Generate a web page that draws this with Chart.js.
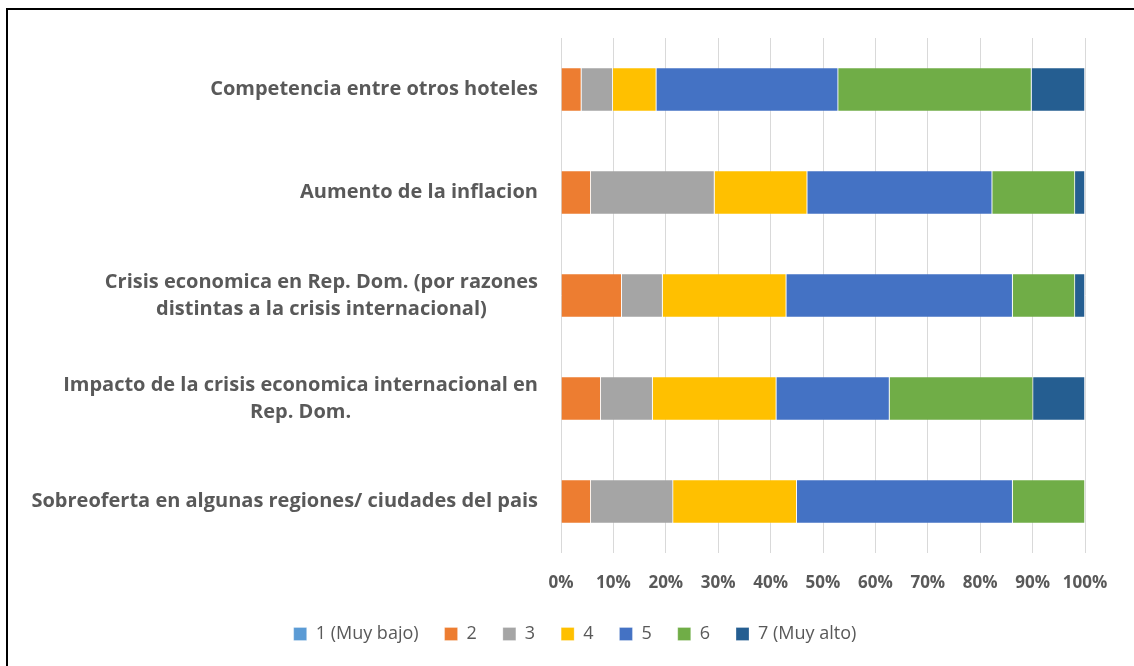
<!DOCTYPE html>
<html>
<head>
<meta charset="utf-8">
<script src="https://cdn.jsdelivr.net/npm/chart.js@4/dist/chart.umd.min.js"></script>
<style>
  html, body { margin: 0; padding: 0; background: #fff; overflow: hidden; }
  #wrap { position: absolute; left: 0; top: 0; width: 1134px; height: 666px; }
  #frame { position: absolute; left: 6px; top: 8px; width: 1200px; height: 800px;
           border-left: 2px solid #000; border-top: 2px solid #000; }
  canvas { position: absolute; left: 0; top: 0; }
</style>
</head>
<body>
<div id="wrap">
  <div id="frame"></div>
  <canvas id="chart" width="1134" height="666"></canvas>
</div>
<script>
// ---- data (percent of answers per level) ----
const categories = [
  ['Competencia entre otros hoteles'],
  ['Aumento de la inflacion'],
  ['Crisis economica en Rep. Dom. (por razones', 'distintas a la crisis internacional)'],
  ['Impacto de la crisis economica internacional en', 'Rep. Dom.'],
  ['Sobreoferta en algunas regiones/ ciudades del pais']
];
const seriesNames = ['1 (Muy bajo)', '2', '3', '4', '5', '6', '7 (Muy alto)'];
const level1 = [0, 0, 0, 0, 0];
const level2 = [3.9, 5.7, 11.6, 7.6, 5.7];
const level3 = [6.0, 23.6, 7.8, 9.9, 15.7];
const level4 = [8.3, 17.7, 23.6, 23.6, 23.6];
const level5 = [34.7, 35.3, 43.2, 21.6, 41.2];
const level6 = [36.9, 15.8, 11.9, 27.4, 13.8];
const level7 = [10.2, 1.9, 1.9, 9.9, 0];
const xTicks = [0, 10, 20, 30, 40, 50, 60, 70, 80, 90, 100];

const colors = ['#5B9BD5', '#ED7D31', '#A5A5A5', '#FFC000', '#4472C4', '#70AD47', '#255E91'];
const textColor = '#595959';
const fontFamily = '"Open Sans", Lato, sans-serif';

const allLevels = [level1, level2, level3, level4, level5, level6, level7];

// y labels drawn by hand so wrapped lines are centered like the original
const categoryLabels = {
  id: 'categoryLabels',
  afterDraw(chart) {
    const ctx = chart.ctx;
    const y = chart.scales.y;
    const rightEdge = chart.chartArea.left - 23;
    const lineH = 27;
    ctx.save();
    ctx.font = 'bold 20px ' + fontFamily;
    ctx.fillStyle = textColor;
    ctx.textAlign = 'center';
    ctx.textBaseline = 'middle';
    categories.forEach((lines, i) => {
      const cy = y.getPixelForValue(i);
      const maxW = Math.max(...lines.map(l => ctx.measureText(l).width));
      const cx = rightEdge - maxW / 2;
      const top = cy - (lines.length - 1) * lineH / 2;
      lines.forEach((l, j) => ctx.fillText(l, cx, top + j * lineH));
    });
    ctx.restore();
  }
};

new Chart(document.getElementById('chart'), {
  type: 'bar',
  data: {
    labels: categories.map(c => c.join(' ')),
    datasets: allLevels.map((vals, i) => ({
      label: seriesNames[i],
      data: vals,
      backgroundColor: colors[i],
      borderColor: 'rgba(255,255,255,0.35)',
      borderWidth: 0.75,
      barPercentage: 0.85,
      categoryPercentage: 0.5
    }))
  },
  options: {
    indexAxis: 'y',
    responsive: false,
    animation: false,
    layout: { padding: { left: 16, right: 0, top: 38, bottom: 13 } },
    scales: {
      x: {
        stacked: true,
        min: 0,
        max: 100,
        afterBuildTicks(scale) { scale.ticks = xTicks.map(v => ({ value: v })); },
        afterFit(scale) { scale.height = 46; },
        grid: { color: '#D9D9D9', lineWidth: 1, drawTicks: false },
        border: { display: false },
        ticks: {
          padding: 20,
          maxRotation: 0,
          minRotation: 0,
          autoSkip: false,
          color: textColor,
          font: { family: fontFamily, size: 17, weight: 'bold' },
          callback: v => v + '%'
        }
      },
      y: {
        stacked: true,
        afterFit(scale) { scale.width = 545; },
        grid: { display: false },
        border: { display: false },
        ticks: { display: false }
      },
      // empty axis that only keeps the right margin
      yRight: {
        type: 'category',
        position: 'right',
        afterFit(scale) { scale.width = 49; },
        grid: { display: false },
        border: { display: false },
        ticks: { display: false }
      }
    },
    plugins: {
      legend: {
        position: 'bottom',
        labels: {
          boxWidth: 13,
          boxHeight: 13,
          padding: 26,
          color: textColor,
          font: { family: fontFamily, size: 18 }
        }
      },
      tooltip: { enabled: false }
    }
  },
  plugins: [categoryLabels]
});
</script>
</body>
</html>
